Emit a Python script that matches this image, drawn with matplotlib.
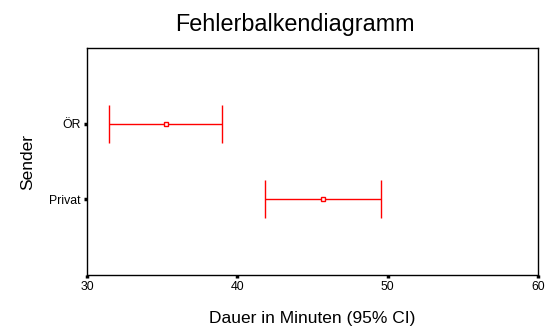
import matplotlib
matplotlib.use('Agg')
import matplotlib.pyplot as plt
import numpy as np

plt.rcParams['font.family'] = ['Liberation Sans', 'DejaVu Sans']

sender = ['Privat', 'ÖR']
mean = [45.7, 35.25]
lower = [41.85, 31.45]
upper = [49.55, 39.0]

pos = np.arange(1, len(sender) + 1)
err = [np.array(mean) - np.array(lower), np.array(upper) - np.array(mean)]

fig = plt.figure(figsize=(5.56, 3.34), dpi=100)
ax = fig.add_axes([0.1565, 0.1766, 0.8111, 0.6797])

ax.errorbar(mean, pos, xerr=err, fmt='s', color='red', ecolor='red',
            mfc='white', mec='red', ms=3.5, mew=1, elinewidth=1,
            capsize=13.5, capthick=1.2)

ax.set_xlim(30, 60)
ax.set_ylim(0, 3)
ax.set_xticks([30, 40, 50, 60])
ax.set_yticks(pos)
ax.set_yticklabels(sender)
ax.tick_params(axis='both', direction='out', length=2.5, width=2.5, labelsize=8.8, pad=2)

ax.set_title('Fehlerbalkendiagramm', fontsize=16.8, pad=12, x=0.46)
ax.set_xlabel('Dauer in Minuten (95% CI)', fontsize=12.5, labelpad=13)
ax.set_ylabel('Sender', fontsize=12.5, labelpad=10)

for s in ax.spines.values():
    s.set_linewidth(1)

fig.savefig('out.png', dpi=100)
